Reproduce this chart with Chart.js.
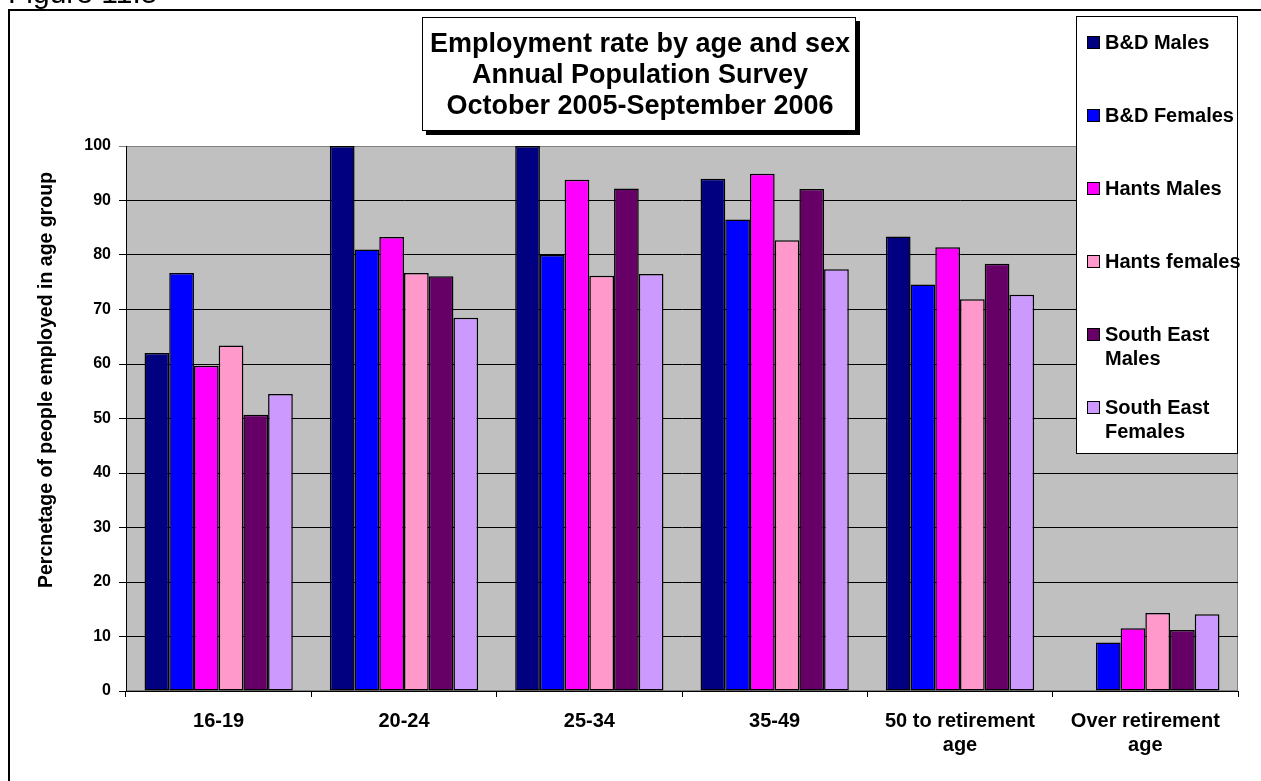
<!DOCTYPE html>
<html>
<head>
<meta charset="utf-8">
<title>Employment rate by age and sex</title>
<script src="https://cdn.jsdelivr.net/npm/chart.js@4.4.0/dist/chart.umd.min.js"></script>
<style>
    body { margin: 0; background: #fff; }
    canvas { display: block; }
</style>
</head>
<body>
<canvas id="graficoEmprego" width="1261" height="781"></canvas>
<script>
// age groups on the x axis
const categories = ['16-19', '20-24', '25-34', '35-49', ['50 to retirement', 'age'], ['Over retirement', 'age']];

// series, % of people employed in each age group
const seriesNames = ['B&D Males', 'B&D Females', 'Hants Males', 'Hants females', 'South East Males', 'South East Females'];
const bdMales      = [62.0, 100, 100, 94.0, 83.4, null];
const bdFemales    = [76.7, 81.0, 80.0, 86.5, 74.6, 8.9];
const hantsMales   = [59.7, 83.3, 93.8, 94.9, 81.4, 11.5];
const hantsFemales = [63.4, 76.7, 76.2, 82.7, 71.9, 14.3];
const seMales      = [50.7, 76.1, 92.2, 92.1, 78.4, 11.2];
const seFemales    = [54.5, 68.5, 76.5, 77.4, 72.7, 14.1];

const yMin = 0, yMax = 100, yStep = 10;

const titleLines = ['Employment rate by age and sex', 'Annual Population Survey', 'October 2005-September 2006'];
const yTitle = 'Percnetage of people employed in age group';

const cores = ['#000080', '#0000FF', '#FF00FF', '#FF99CC', '#660066', '#CC99FF'];
const fonte = "'Liberation Sans', Arial, Helvetica, sans-serif";

// frame, grey plot area, title box, legend box
const moldura = {
    id: 'moldura',
    beforeDraw(chart) {
        const ctx = chart.ctx;
        const a = chart.chartArea;
        ctx.save();
        ctx.fillStyle = '#fff';
        ctx.fillRect(0, 0, chart.width, chart.height);

        ctx.fillStyle = '#000';
        ctx.font = '30px ' + fonte;
        ctx.textBaseline = 'alphabetic';
        ctx.fillText('Figure 11.5', 8, 3);

        ctx.strokeStyle = '#000';
        ctx.lineWidth = 2;
        ctx.strokeRect(9, 10, chart.width + 20, chart.height + 20);

        ctx.fillStyle = '#c0c0c0';
        ctx.fillRect(a.left, a.top, a.right - a.left, a.bottom - a.top);
        ctx.strokeStyle = '#808080';
        ctx.lineWidth = 1;
        ctx.strokeRect(a.left + 0.5, a.top + 0.5, a.right - a.left - 1, a.bottom - a.top - 1);
        ctx.restore();
    },
    afterDraw(chart) {
        const ctx = chart.ctx;
        ctx.save();

        // y axis title
        ctx.translate(47, 380);
        ctx.rotate(-Math.PI / 2);
        ctx.fillStyle = '#000';
        ctx.font = 'bold 19.5px ' + fonte;
        ctx.textAlign = 'center';
        ctx.textBaseline = 'middle';
        ctx.fillText(yTitle, 0, 0);
        ctx.setTransform(1, 0, 0, 1, 0, 0);

        // title box with shadow
        ctx.fillStyle = '#000';
        ctx.fillRect(426, 21, 434, 114);
        ctx.fillStyle = '#fff';
        ctx.fillRect(422, 17, 434, 114);
        ctx.strokeStyle = '#000';
        ctx.lineWidth = 1;
        ctx.strokeRect(422.5, 17.5, 433, 113);
        ctx.fillStyle = '#000';
        ctx.font = 'bold 27px ' + fonte;
        ctx.textAlign = 'center';
        ctx.textBaseline = 'middle';
        titleLines.forEach((linha, i) => ctx.fillText(linha, 640, 45 + i * 31));

        // legend
        ctx.fillStyle = '#fff';
        ctx.fillRect(1076, 16, 162, 438);
        ctx.strokeRect(1076.5, 16.5, 161, 437);
        ctx.font = 'bold 20px ' + fonte;
        ctx.textAlign = 'left';
        chart.data.datasets.forEach((ds, i) => {
            const y = 43 + i * 73;
            ctx.fillStyle = ds.backgroundColor;
            ctx.fillRect(1087, y - 7, 13, 13);
            ctx.strokeStyle = '#000';
            ctx.strokeRect(1087.5, y - 6.5, 12, 12);

            // wrap long names onto two lines
            const linhas = [];
            let atual = '';
            ds.label.split(' ').forEach(p => {
                const teste = atual ? atual + ' ' + p : p;
                if (atual && ctx.measureText(teste).width > 140) {
                    linhas.push(atual);
                    atual = p;
                } else {
                    atual = teste;
                }
            });
            linhas.push(atual);
            ctx.fillStyle = '#000';
            linhas.forEach((l, j) => ctx.fillText(l, 1105, y + j * 24));
        });
        ctx.restore();
    }
};

const valores = [bdMales, bdFemales, hantsMales, hantsFemales, seMales, seFemales];

new Chart(document.getElementById('graficoEmprego'), {
    type: 'bar',
    data: {
        labels: categories,
        datasets: seriesNames.map((nome, i) => ({
            label: nome,
            data: valores[i],
            backgroundColor: cores[i],
            borderColor: '#000',
            borderWidth: 1.5,
            borderSkipped: false,
            categoryPercentage: 0.8,
            barPercentage: 1
        }))
    },
    options: {
        responsive: false,
        animation: false,
        devicePixelRatio: 1,
        layout: { padding: { top: 146, right: 23, left: 0, bottom: 0 } },
        plugins: {
            legend: { display: false },
            title: { display: false },
            tooltip: { enabled: false }
        },
        scales: {
            x: {
                afterFit: s => { s.height = 90; },
                grid: { drawOnChartArea: false, drawTicks: true, tickLength: 6, color: '#000' },
                border: { color: '#000', width: 1 },
                ticks: {
                    color: '#000',
                    padding: 12,
                    maxRotation: 0,
                    font: { family: fonte, size: 20, weight: 'bold', lineHeight: 1.2 }
                }
            },
            y: {
                min: yMin,
                max: yMax,
                afterFit: s => { s.width = 126; },
                grid: {
                    color: c => (c.tick && c.tick.value === yMax) ? '#808080' : '#000',
                    tickLength: 7
                },
                border: { color: '#000', width: 1 },
                ticks: {
                    stepSize: yStep,
                    color: '#000',
                    padding: 8,
                    font: { family: fonte, size: 16, weight: 'bold' }
                }
            }
        }
    },
    plugins: [moldura]
});
</script>
</body>
</html>
